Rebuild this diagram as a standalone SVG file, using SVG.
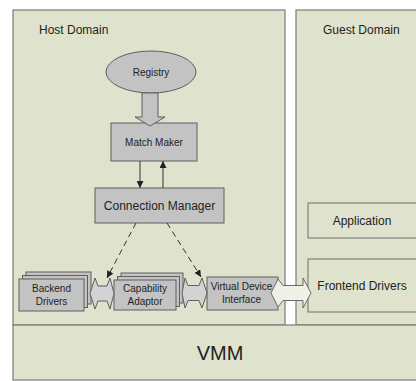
<svg xmlns="http://www.w3.org/2000/svg" width="416" height="381" viewBox="0 0 416 381">
  <style>
    .panel { fill: #dfe3cd; stroke: #7a7a7a; stroke-width: 1.2; }
    .box { fill: #c3c3c3; stroke: #5f5f5f; stroke-width: 1; }
    .pbox { fill: #dfe3cd; stroke: #6e6e6e; stroke-width: 1; }
    .lbl { font-family: "Liberation Sans", Arial, sans-serif; fill: #222; text-anchor: middle; }
    .hdr { font-family: "Liberation Sans", Arial, sans-serif; fill: #222; font-size: 12px; }
    .dbl { fill: #d3d3d3; stroke: #5f5f5f; stroke-width: 1; }
    .dbl-light { fill: #eff1e5; stroke: #6a6a6a; stroke-width: 1; }
    .thin { fill: none; stroke: #333; stroke-width: 1; }
    .dash { fill: none; stroke: #333; stroke-width: 1; stroke-dasharray: 6 4; }
  </style>
  <defs>
    <marker id="tip" viewBox="0 0 10 10" refX="10" refY="5" markerWidth="7" markerHeight="7" markerUnits="userSpaceOnUse" orient="auto">
      <path d="M0,0 L10,5 L0,10 z" fill="#222"/>
    </marker>
  </defs>

  <rect width="416" height="381" fill="#ffffff"/>

  <!-- domains and hypervisor layer -->
  <g id="host-domain">
    <rect class="panel" x="13" y="10" width="272" height="315"/>
    <text class="hdr" x="39" y="34">Host Domain</text>
  </g>
  <g id="guest-domain">
    <rect class="panel" x="296" y="10" width="130" height="315"/>
    <text class="hdr" x="323" y="34">Guest Domain</text>
  </g>
  <g id="vmm">
    <rect class="panel" x="13" y="325" width="413" height="55"/>
    <text class="lbl" x="220" y="360" font-size="20">VMM</text>
  </g>

  <!-- components -->
  <g id="registry">
    <ellipse class="box" cx="151" cy="72" rx="45" ry="21"/>
    <text class="lbl" x="151" y="75.5" font-size="10">Registry</text>
  </g>
  <g id="match-maker">
    <rect class="box" x="111" y="123" width="86" height="38"/>
    <text class="lbl" x="154" y="145.5" font-size="10">Match Maker</text>
  </g>
  <g id="connection-manager">
    <rect class="box" x="95" y="188" width="129" height="35"/>
    <text class="lbl" x="159.5" y="209.5" font-size="12">Connection Manager</text>
  </g>
  <g id="backend-drivers">
    <rect class="box" x="26" y="272" width="65" height="32"/>
    <rect class="box" x="22.5" y="275.5" width="65" height="32"/>
    <rect class="box" x="19" y="279" width="65" height="32"/>
    <text class="lbl" x="51.5" y="291.5" font-size="10">Backend</text>
    <text class="lbl" x="51.5" y="304.5" font-size="10">Drivers</text>
  </g>
  <g id="capability-adaptor">
    <rect class="box" x="121" y="273" width="62" height="30"/>
    <rect class="box" x="117.5" y="276.5" width="62" height="30"/>
    <rect class="box" x="114" y="280" width="62" height="30"/>
    <text class="lbl" x="145" y="292" font-size="10">Capability</text>
    <text class="lbl" x="145" y="305" font-size="10">Adaptor</text>
  </g>
  <g id="virtual-device-interface">
    <rect class="box" x="207" y="277" width="71" height="33"/>
    <text class="lbl" x="241.5" y="290" font-size="10">Virtual Device</text>
    <text class="lbl" x="241.5" y="303" font-size="10">Interface</text>
  </g>
  <g id="application">
    <rect class="pbox" x="308" y="203" width="120" height="35"/>
    <text class="lbl" x="362" y="224.5" font-size="12">Application</text>
  </g>
  <g id="frontend-drivers">
    <rect class="pbox" x="308" y="259" width="120" height="53"/>
    <text class="lbl" x="362" y="289.5" font-size="12">Frontend Drivers</text>
  </g>

  <!-- connectors -->
  <g id="connectors">
    <!-- registry feeds the match maker -->
    <path class="box" d="M142,93 L158,93 L158,117 L165,117 L150,126 L135,117 L142,117 z"/>
    <!-- match maker <-> connection manager -->
    <line class="thin" x1="140" y1="161" x2="140" y2="188" marker-end="url(#tip)"/>
    <line class="thin" x1="163" y1="188" x2="163" y2="161" marker-end="url(#tip)"/>
    <!-- connection manager drives the adaptor links -->
    <line class="dash" x1="136" y1="223" x2="107" y2="278" marker-end="url(#tip)"/>
    <line class="dash" x1="167" y1="223" x2="201" y2="277" marker-end="url(#tip)"/>
    <!-- data paths -->
    <path class="dbl" d="M90,293.5 L95,278 L98,286 L107,286 L110,278 L114,293.5 L110,309 L107,301 L98,301 L95,309 z"/>
    <path class="dbl" d="M182,293 L185,278 L188,285.5 L199,285.5 L202,278 L207,293 L202,308 L199,300.5 L188,300.5 L185,308 z"/>
    <path class="dbl-light" d="M271,293 L278,279 L283,285.5 L303,285.5 L303,278 L311,293 L303,308 L303,300.5 L283,300.5 L278,307 z"/>
  </g>
</svg>
